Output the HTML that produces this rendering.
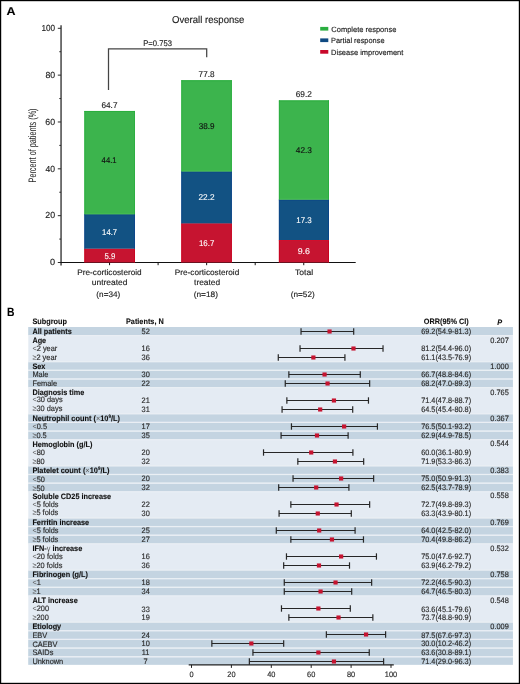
<!DOCTYPE html>
<html><head><meta charset="utf-8"><style>
html,body{margin:0;padding:0;background:#fff;width:520px;height:684px;overflow:hidden;}
svg{display:block;will-change:transform;}
text{font-family:"Liberation Sans",sans-serif;text-rendering:geometricPrecision;}
</style></head><body>
<svg width="520" height="684" viewBox="0 0 520 684">
<rect x="0" y="0" width="520" height="684" fill="#fff"/>
<text x="6.59" y="15.00" font-size="11.3" font-weight="bold" fill="#000" stroke="#000" stroke-width="0.1" stroke-linejoin="round" textLength="9.04" lengthAdjust="spacingAndGlyphs" stroke="#000" stroke-width="0.3">A</text>
<text x="172.05" y="23.00" font-size="10.0" fill="#1e1e1e" stroke="#1e1e1e" stroke-width="0.15" stroke-linejoin="round" textLength="72.38" lengthAdjust="spacingAndGlyphs">Overall response</text>
<line x1="61.05" y1="25.3" x2="61.05" y2="265.6" stroke="#2a2a2a" stroke-width="1.3"/>
<line x1="57.8" y1="262.50" x2="61" y2="262.50" stroke="#2a2a2a" stroke-width="1"/>
<text x="50.04" y="265.00" font-size="8.8" fill="#1e1e1e" stroke="#1e1e1e" stroke-width="0.15" stroke-linejoin="round" textLength="5.12" lengthAdjust="spacingAndGlyphs">0</text>
<line x1="59.3" y1="239.08" x2="61" y2="239.08" stroke="#2a2a2a" stroke-width="1"/>
<line x1="57.8" y1="215.66" x2="61" y2="215.66" stroke="#2a2a2a" stroke-width="1"/>
<text x="45.36" y="218.00" font-size="8.8" fill="#1e1e1e" stroke="#1e1e1e" stroke-width="0.15" stroke-linejoin="round" textLength="9.79" lengthAdjust="spacingAndGlyphs">20</text>
<line x1="59.3" y1="192.24" x2="61" y2="192.24" stroke="#2a2a2a" stroke-width="1"/>
<line x1="57.8" y1="168.82" x2="61" y2="168.82" stroke="#2a2a2a" stroke-width="1"/>
<text x="45.60" y="172.00" font-size="8.8" fill="#1e1e1e" stroke="#1e1e1e" stroke-width="0.15" stroke-linejoin="round" textLength="9.53" lengthAdjust="spacingAndGlyphs">40</text>
<line x1="59.3" y1="145.40" x2="61" y2="145.40" stroke="#2a2a2a" stroke-width="1"/>
<line x1="57.8" y1="121.98" x2="61" y2="121.98" stroke="#2a2a2a" stroke-width="1"/>
<text x="45.35" y="125.00" font-size="8.8" fill="#1e1e1e" stroke="#1e1e1e" stroke-width="0.15" stroke-linejoin="round" textLength="9.79" lengthAdjust="spacingAndGlyphs">60</text>
<line x1="59.3" y1="98.56" x2="61" y2="98.56" stroke="#2a2a2a" stroke-width="1"/>
<line x1="57.8" y1="75.14" x2="61" y2="75.14" stroke="#2a2a2a" stroke-width="1"/>
<text x="45.42" y="78.00" font-size="8.8" fill="#1e1e1e" stroke="#1e1e1e" stroke-width="0.15" stroke-linejoin="round" textLength="9.72" lengthAdjust="spacingAndGlyphs">80</text>
<line x1="59.3" y1="51.72" x2="61" y2="51.72" stroke="#2a2a2a" stroke-width="1"/>
<line x1="57.8" y1="28.30" x2="61" y2="28.30" stroke="#2a2a2a" stroke-width="1"/>
<text x="41.48" y="31.00" font-size="8.8" fill="#1e1e1e" stroke="#1e1e1e" stroke-width="0.15" stroke-linejoin="round" textLength="13.64" lengthAdjust="spacingAndGlyphs">100</text>
<text x="0" y="0" font-size="10.8" fill="#1e1e1e" text-anchor="middle" textLength="74" lengthAdjust="spacingAndGlyphs" transform="translate(36.1 145.45) rotate(-90)">Percent of patients (%)</text>
<line x1="60.4" y1="262.5" x2="355.7" y2="262.5" stroke="#111" stroke-width="1.2"/>
<line x1="109.55" y1="262.5" x2="109.55" y2="265.2" stroke="#111" stroke-width="1"/>
<line x1="158.10" y1="262.5" x2="158.10" y2="265.2" stroke="#111" stroke-width="1"/>
<line x1="206.65" y1="262.5" x2="206.65" y2="265.2" stroke="#111" stroke-width="1"/>
<line x1="255.20" y1="262.5" x2="255.20" y2="265.2" stroke="#111" stroke-width="1"/>
<line x1="303.75" y1="262.5" x2="303.75" y2="265.2" stroke="#111" stroke-width="1"/>
<rect x="84.4" y="248.68" width="50.50" height="13.82" fill="#c61430"/>
<rect x="84.4" y="248.68" width="0.9" height="13.82" fill="#c9021f"/>
<rect x="134.00" y="248.68" width="0.9" height="13.82" fill="#c9021f"/>
<rect x="84.4" y="248.68" width="50.50" height="0.9" fill="#d80f2a"/>
<rect x="84.4" y="214.25" width="50.50" height="34.43" fill="#125283"/>
<rect x="84.4" y="214.25" width="0.9" height="34.43" fill="#0b4588"/>
<rect x="134.00" y="214.25" width="0.9" height="34.43" fill="#0b4588"/>
<rect x="84.4" y="214.25" width="50.50" height="0.9" fill="#0a428a"/>
<rect x="84.4" y="110.97" width="50.50" height="103.28" fill="#3cb44d"/>
<rect x="84.4" y="110.97" width="0.9" height="103.28" fill="#2aae3f"/>
<rect x="134.00" y="110.97" width="0.9" height="103.28" fill="#2aae3f"/>
<rect x="84.4" y="110.97" width="50.50" height="0.9" fill="#28ad3c"/>
<rect x="85.30" y="213.35" width="48.70" height="0.9" fill="#47bf50"/>
<rect x="181.35" y="223.39" width="50.45" height="39.11" fill="#c61430"/>
<rect x="181.35" y="223.39" width="0.9" height="39.11" fill="#c9021f"/>
<rect x="230.90" y="223.39" width="0.9" height="39.11" fill="#c9021f"/>
<rect x="181.35" y="223.39" width="50.45" height="0.9" fill="#d80f2a"/>
<rect x="181.35" y="171.40" width="50.45" height="51.99" fill="#125283"/>
<rect x="181.35" y="171.40" width="0.9" height="51.99" fill="#0b4588"/>
<rect x="230.90" y="171.40" width="0.9" height="51.99" fill="#0b4588"/>
<rect x="181.35" y="171.40" width="50.45" height="0.9" fill="#0a428a"/>
<rect x="181.35" y="80.29" width="50.45" height="91.10" fill="#3cb44d"/>
<rect x="181.35" y="80.29" width="0.9" height="91.10" fill="#2aae3f"/>
<rect x="230.90" y="80.29" width="0.9" height="91.10" fill="#2aae3f"/>
<rect x="181.35" y="80.29" width="50.45" height="0.9" fill="#28ad3c"/>
<rect x="182.25" y="170.50" width="48.65" height="0.9" fill="#47bf50"/>
<rect x="278.9" y="240.02" width="50.10" height="22.48" fill="#c61430"/>
<rect x="278.9" y="240.02" width="0.9" height="22.48" fill="#c9021f"/>
<rect x="328.10" y="240.02" width="0.9" height="22.48" fill="#c9021f"/>
<rect x="278.9" y="240.02" width="50.10" height="0.9" fill="#d80f2a"/>
<rect x="278.9" y="199.50" width="50.10" height="40.52" fill="#125283"/>
<rect x="278.9" y="199.50" width="0.9" height="40.52" fill="#0b4588"/>
<rect x="328.10" y="199.50" width="0.9" height="40.52" fill="#0b4588"/>
<rect x="278.9" y="199.50" width="50.10" height="0.9" fill="#0a428a"/>
<rect x="278.9" y="100.43" width="50.10" height="99.07" fill="#3cb44d"/>
<rect x="278.9" y="100.43" width="0.9" height="99.07" fill="#2aae3f"/>
<rect x="328.10" y="100.43" width="0.9" height="99.07" fill="#2aae3f"/>
<rect x="278.9" y="100.43" width="50.10" height="0.9" fill="#28ad3c"/>
<rect x="279.80" y="198.60" width="48.30" height="0.9" fill="#47bf50"/>
<text x="101.48" y="108.00" font-size="8.4" fill="#1e1e1e" stroke="#1e1e1e" stroke-width="0.15" stroke-linejoin="round" textLength="16.03" lengthAdjust="spacingAndGlyphs">64.7</text>
<text x="198.58" y="77.00" font-size="8.4" fill="#1e1e1e" stroke="#1e1e1e" stroke-width="0.15" stroke-linejoin="round" textLength="15.98" lengthAdjust="spacingAndGlyphs">77.8</text>
<text x="295.68" y="97.00" font-size="8.4" fill="#1e1e1e" stroke="#1e1e1e" stroke-width="0.15" stroke-linejoin="round" textLength="16.14" lengthAdjust="spacingAndGlyphs">69.2</text>
<text x="101.62" y="163.00" font-size="8.4" fill="#111" stroke="#111" stroke-width="0.15" stroke-linejoin="round" textLength="14.95" lengthAdjust="spacingAndGlyphs">44.1</text>
<text x="198.79" y="129.00" font-size="8.4" fill="#111" stroke="#111" stroke-width="0.15" stroke-linejoin="round" textLength="15.79" lengthAdjust="spacingAndGlyphs">38.9</text>
<text x="295.81" y="153.00" font-size="8.4" fill="#111" stroke="#111" stroke-width="0.15" stroke-linejoin="round" textLength="16.16" lengthAdjust="spacingAndGlyphs">42.3</text>
<text x="102.11" y="235.00" font-size="8.4" fill="#fff" stroke="#fff" stroke-width="0.1" stroke-linejoin="round" textLength="15.08" lengthAdjust="spacingAndGlyphs">14.7</text>
<text x="198.48" y="200.00" font-size="8.4" fill="#fff" stroke="#fff" stroke-width="0.1" stroke-linejoin="round" textLength="16.13" lengthAdjust="spacingAndGlyphs">22.2</text>
<text x="296.19" y="223.00" font-size="8.4" fill="#fff" stroke="#fff" stroke-width="0.1" stroke-linejoin="round" textLength="15.56" lengthAdjust="spacingAndGlyphs">17.3</text>
<text x="104.49" y="259.00" font-size="8.4" fill="#fff" stroke="#fff" stroke-width="0.1" stroke-linejoin="round" textLength="10.78" lengthAdjust="spacingAndGlyphs">5.9</text>
<text x="198.90" y="246.00" font-size="8.4" fill="#fff" stroke="#fff" stroke-width="0.1" stroke-linejoin="round" textLength="15.40" lengthAdjust="spacingAndGlyphs">16.7</text>
<text x="297.69" y="254.00" font-size="8.4" fill="#fff" stroke="#fff" stroke-width="0.1" stroke-linejoin="round" textLength="12.30" lengthAdjust="spacingAndGlyphs">9.6</text>
<text x="77.33" y="275.00" font-size="8.0" fill="#1e1e1e" stroke="#1e1e1e" stroke-width="0.15" stroke-linejoin="round" textLength="64.30" lengthAdjust="spacingAndGlyphs">Pre-corticosteroid</text>
<text x="91.75" y="285.00" font-size="8.0" fill="#1e1e1e" stroke="#1e1e1e" stroke-width="0.15" stroke-linejoin="round" textLength="35.69" lengthAdjust="spacingAndGlyphs">untreated</text>
<text x="96.39" y="297.00" font-size="8.0" fill="#1e1e1e" stroke="#1e1e1e" stroke-width="0.15" stroke-linejoin="round" textLength="23.81" lengthAdjust="spacingAndGlyphs">(n=34)</text>
<text x="174.83" y="275.00" font-size="8.0" fill="#1e1e1e" stroke="#1e1e1e" stroke-width="0.15" stroke-linejoin="round" textLength="64.40" lengthAdjust="spacingAndGlyphs">Pre-corticosteroid</text>
<text x="194.07" y="285.00" font-size="8.0" fill="#1e1e1e" stroke="#1e1e1e" stroke-width="0.15" stroke-linejoin="round" textLength="26.07" lengthAdjust="spacingAndGlyphs">treated</text>
<text x="193.69" y="297.00" font-size="8.0" fill="#1e1e1e" stroke="#1e1e1e" stroke-width="0.15" stroke-linejoin="round" textLength="24.23" lengthAdjust="spacingAndGlyphs">(n=18)</text>
<text x="295.02" y="275.00" font-size="8.0" fill="#1e1e1e" stroke="#1e1e1e" stroke-width="0.15" stroke-linejoin="round" textLength="18.13" lengthAdjust="spacingAndGlyphs">Total</text>
<text x="290.79" y="297.00" font-size="8.0" fill="#1e1e1e" stroke="#1e1e1e" stroke-width="0.15" stroke-linejoin="round" textLength="23.92" lengthAdjust="spacingAndGlyphs">(n=52)</text>
<path d="M108.5 90 V48.9 H206.7 V57.3" fill="none" stroke="#444" stroke-width="1.25"/>
<text x="143.27" y="46.00" font-size="8.2" fill="#1e1e1e" stroke="#1e1e1e" stroke-width="0.15" stroke-linejoin="round" textLength="28.66" lengthAdjust="spacingAndGlyphs">P=0.753</text>
<rect x="320.2" y="26.9" width="8.1" height="3.7" fill="#2aae40"/>
<text x="331.32" y="32.00" font-size="7.6" fill="#1e1e1e" stroke="#1e1e1e" stroke-width="0.15" stroke-linejoin="round" textLength="65.01" lengthAdjust="spacingAndGlyphs">Complete response</text>
<rect x="320.2" y="38.4" width="8.1" height="3.7" fill="#0f4a82"/>
<text x="331.09" y="43.00" font-size="7.6" fill="#1e1e1e" stroke="#1e1e1e" stroke-width="0.15" stroke-linejoin="round" textLength="53.44" lengthAdjust="spacingAndGlyphs">Partial response</text>
<rect x="320.2" y="50.0" width="8.1" height="3.7" fill="#c8072a"/>
<text x="331.09" y="55.00" font-size="7.6" fill="#1e1e1e" stroke="#1e1e1e" stroke-width="0.15" stroke-linejoin="round" textLength="72.27" lengthAdjust="spacingAndGlyphs">Disease improvement</text>
<text x="7.11" y="316.00" font-size="12.0" font-weight="bold" fill="#000" stroke="#000" stroke-width="0.1" stroke-linejoin="round" textLength="7.46" lengthAdjust="spacingAndGlyphs" stroke="#000" stroke-width="0.35">B</text>
<rect x="28.3" y="327.02" width="484.60" height="337.77" fill="#e4ebf3"/>
<rect x="28.3" y="327.02" width="484.60" height="7.98" fill="#c4d4e1"/>
<rect x="28.3" y="362.24" width="484.60" height="7.48" fill="#c4d4e1"/>
<rect x="28.3" y="370.92" width="484.60" height="7.48" fill="#c4d4e1"/>
<rect x="28.3" y="379.60" width="484.60" height="7.48" fill="#c4d4e1"/>
<rect x="28.3" y="414.32" width="484.60" height="7.48" fill="#c4d4e1"/>
<rect x="28.3" y="423.00" width="484.60" height="7.48" fill="#c4d4e1"/>
<rect x="28.3" y="431.68" width="484.60" height="7.48" fill="#c4d4e1"/>
<rect x="28.3" y="466.40" width="484.60" height="7.48" fill="#c4d4e1"/>
<rect x="28.3" y="475.08" width="484.60" height="7.48" fill="#c4d4e1"/>
<rect x="28.3" y="483.76" width="484.60" height="7.48" fill="#c4d4e1"/>
<rect x="28.3" y="518.48" width="484.60" height="7.48" fill="#c4d4e1"/>
<rect x="28.3" y="527.16" width="484.60" height="7.48" fill="#c4d4e1"/>
<rect x="28.3" y="535.84" width="484.60" height="7.48" fill="#c4d4e1"/>
<rect x="28.3" y="570.56" width="484.60" height="7.48" fill="#c4d4e1"/>
<rect x="28.3" y="579.24" width="484.60" height="7.48" fill="#c4d4e1"/>
<rect x="28.3" y="587.92" width="484.60" height="7.48" fill="#c4d4e1"/>
<rect x="28.3" y="622.64" width="484.60" height="7.48" fill="#c4d4e1"/>
<rect x="28.3" y="631.32" width="484.60" height="7.48" fill="#c4d4e1"/>
<rect x="28.3" y="640.00" width="484.60" height="7.48" fill="#c4d4e1"/>
<rect x="28.3" y="648.68" width="484.60" height="7.48" fill="#c4d4e1"/>
<rect x="28.3" y="657.36" width="484.60" height="7.43" fill="#c4d4e1"/>
<rect x="28.3" y="335.05" width="484.60" height="1.1" fill="#eaeff4"/>
<rect x="28.3" y="361.09" width="484.60" height="1.1" fill="#eaeff4"/>
<rect x="28.3" y="369.77" width="484.60" height="1.1" fill="#eaeff4"/>
<rect x="28.3" y="378.45" width="484.60" height="1.1" fill="#eaeff4"/>
<rect x="28.3" y="387.13" width="484.60" height="1.1" fill="#eaeff4"/>
<rect x="28.3" y="413.17" width="484.60" height="1.1" fill="#eaeff4"/>
<rect x="28.3" y="421.85" width="484.60" height="1.1" fill="#eaeff4"/>
<rect x="28.3" y="430.53" width="484.60" height="1.1" fill="#eaeff4"/>
<rect x="28.3" y="439.21" width="484.60" height="1.1" fill="#eaeff4"/>
<rect x="28.3" y="465.25" width="484.60" height="1.1" fill="#eaeff4"/>
<rect x="28.3" y="473.93" width="484.60" height="1.1" fill="#eaeff4"/>
<rect x="28.3" y="482.61" width="484.60" height="1.1" fill="#eaeff4"/>
<rect x="28.3" y="491.29" width="484.60" height="1.1" fill="#eaeff4"/>
<rect x="28.3" y="517.33" width="484.60" height="1.1" fill="#eaeff4"/>
<rect x="28.3" y="526.01" width="484.60" height="1.1" fill="#eaeff4"/>
<rect x="28.3" y="534.69" width="484.60" height="1.1" fill="#eaeff4"/>
<rect x="28.3" y="543.37" width="484.60" height="1.1" fill="#eaeff4"/>
<rect x="28.3" y="569.41" width="484.60" height="1.1" fill="#eaeff4"/>
<rect x="28.3" y="578.09" width="484.60" height="1.1" fill="#eaeff4"/>
<rect x="28.3" y="586.77" width="484.60" height="1.1" fill="#eaeff4"/>
<rect x="28.3" y="595.45" width="484.60" height="1.1" fill="#eaeff4"/>
<rect x="28.3" y="621.49" width="484.60" height="1.1" fill="#eaeff4"/>
<rect x="28.3" y="630.17" width="484.60" height="1.1" fill="#eaeff4"/>
<rect x="28.3" y="638.85" width="484.60" height="1.1" fill="#eaeff4"/>
<rect x="28.3" y="647.53" width="484.60" height="1.1" fill="#eaeff4"/>
<rect x="28.3" y="656.21" width="484.60" height="1.1" fill="#eaeff4"/>
<text x="32.40" y="324.00" font-size="7.85" font-weight="bold" fill="#111" stroke="#111" stroke-width="0.1" stroke-linejoin="round" textLength="34.47" lengthAdjust="spacingAndGlyphs">Subgroup</text>
<text x="144.85" y="324.00" font-size="7.85" font-weight="bold" text-anchor="middle" fill="#111" stroke="#111" stroke-width="0.1" stroke-linejoin="round" textLength="37.73" lengthAdjust="spacingAndGlyphs">Patients, N</text>
<text x="446.30" y="324.00" font-size="7.85" font-weight="bold" text-anchor="middle" fill="#111" stroke="#111" stroke-width="0.1" stroke-linejoin="round" textLength="45.02" lengthAdjust="spacingAndGlyphs">ORR(95% CI)</text>
<text x="499.60" y="325.00" font-size="7.85" font-weight="bold" text-anchor="middle" fill="#111" stroke="#111" stroke-width="0.1" stroke-linejoin="round" textLength="4.87" lengthAdjust="spacingAndGlyphs" font-style="italic">P</text>
<text x="32.40" y="334.00" font-size="7.85" font-weight="bold" fill="#111" stroke="#111" stroke-width="0.1" stroke-linejoin="round" textLength="39.35" lengthAdjust="spacingAndGlyphs">All patients</text>
<text x="145.65" y="334.00" font-size="7.85" text-anchor="middle" fill="#2a2a2a" stroke="#2a2a2a" stroke-width="0.15" stroke-linejoin="round" textLength="8.23" lengthAdjust="spacingAndGlyphs">52</text>
<text x="446.15" y="334.00" font-size="7.85" text-anchor="middle" fill="#2a2a2a" stroke="#2a2a2a" stroke-width="0.15" stroke-linejoin="round" textLength="49.92" lengthAdjust="spacingAndGlyphs">69.2(54.9-81.3)</text>
<line x1="301.03" y1="331.50" x2="353.69" y2="331.50" stroke="#262626" stroke-width="1"/>
<line x1="301.03" y1="328.30" x2="301.03" y2="334.70" stroke="#262626" stroke-width="1.2"/>
<line x1="353.69" y1="328.30" x2="353.69" y2="334.70" stroke="#262626" stroke-width="1.2"/>
<rect x="327.45" y="329.45" width="4.2" height="4.1" fill="#c61430"/>
<text x="32.40" y="343.00" font-size="7.85" font-weight="bold" fill="#111" stroke="#111" stroke-width="0.1" stroke-linejoin="round" textLength="13.79" lengthAdjust="spacingAndGlyphs">Age</text>
<text x="499.60" y="343.00" font-size="7.85" text-anchor="middle" fill="#2a2a2a" stroke="#2a2a2a" stroke-width="0.15" stroke-linejoin="round" textLength="18.52" lengthAdjust="spacingAndGlyphs">0.207</text>
<text x="32.40" y="351.00" font-size="7.85" fill="#2a2a2a" stroke="#2a2a2a" stroke-width="0.15" stroke-linejoin="round" textLength="24.89" lengthAdjust="spacingAndGlyphs"><tspan fill="#5a5a5a" stroke="none">&lt;</tspan>2 year</text>
<text x="145.65" y="351.00" font-size="7.85" text-anchor="middle" fill="#2a2a2a" stroke="#2a2a2a" stroke-width="0.15" stroke-linejoin="round" textLength="8.23" lengthAdjust="spacingAndGlyphs">16</text>
<text x="446.15" y="351.00" font-size="7.85" text-anchor="middle" fill="#2a2a2a" stroke="#2a2a2a" stroke-width="0.15" stroke-linejoin="round" textLength="49.92" lengthAdjust="spacingAndGlyphs">81.2(54.4-96.0)</text>
<line x1="300.03" y1="348.50" x2="383.02" y2="348.50" stroke="#262626" stroke-width="1"/>
<line x1="300.03" y1="345.30" x2="300.03" y2="351.70" stroke="#262626" stroke-width="1.2"/>
<line x1="383.02" y1="345.30" x2="383.02" y2="351.70" stroke="#262626" stroke-width="1.2"/>
<rect x="351.39" y="346.45" width="4.2" height="4.1" fill="#c61430"/>
<text x="32.40" y="360.00" font-size="7.85" fill="#2a2a2a" stroke="#2a2a2a" stroke-width="0.15" stroke-linejoin="round" textLength="24.63" lengthAdjust="spacingAndGlyphs"><tspan fill="#5a5a5a" stroke="none">≥</tspan>2 year</text>
<text x="145.65" y="360.00" font-size="7.85" text-anchor="middle" fill="#2a2a2a" stroke="#2a2a2a" stroke-width="0.15" stroke-linejoin="round" textLength="8.23" lengthAdjust="spacingAndGlyphs">36</text>
<text x="446.15" y="360.00" font-size="7.85" text-anchor="middle" fill="#2a2a2a" stroke="#2a2a2a" stroke-width="0.15" stroke-linejoin="round" textLength="49.92" lengthAdjust="spacingAndGlyphs">61.1(43.5-76.9)</text>
<line x1="278.28" y1="357.50" x2="344.92" y2="357.50" stroke="#262626" stroke-width="1"/>
<line x1="278.28" y1="354.30" x2="278.28" y2="360.70" stroke="#262626" stroke-width="1.2"/>
<line x1="344.92" y1="354.30" x2="344.92" y2="360.70" stroke="#262626" stroke-width="1.2"/>
<rect x="311.29" y="355.45" width="4.2" height="4.1" fill="#c61430"/>
<text x="32.40" y="369.00" font-size="7.85" font-weight="bold" fill="#111" stroke="#111" stroke-width="0.1" stroke-linejoin="round" textLength="12.99" lengthAdjust="spacingAndGlyphs">Sex</text>
<text x="499.60" y="369.00" font-size="7.85" text-anchor="middle" fill="#2a2a2a" stroke="#2a2a2a" stroke-width="0.15" stroke-linejoin="round" textLength="18.52" lengthAdjust="spacingAndGlyphs">1.000</text>
<text x="32.40" y="377.00" font-size="7.85" fill="#2a2a2a" stroke="#2a2a2a" stroke-width="0.15" stroke-linejoin="round" textLength="16.04" lengthAdjust="spacingAndGlyphs">Male</text>
<text x="145.65" y="377.00" font-size="7.85" text-anchor="middle" fill="#2a2a2a" stroke="#2a2a2a" stroke-width="0.15" stroke-linejoin="round" textLength="8.23" lengthAdjust="spacingAndGlyphs">30</text>
<text x="446.15" y="377.00" font-size="7.85" text-anchor="middle" fill="#2a2a2a" stroke="#2a2a2a" stroke-width="0.15" stroke-linejoin="round" textLength="49.92" lengthAdjust="spacingAndGlyphs">66.7(48.8-84.6)</text>
<line x1="288.86" y1="374.50" x2="360.28" y2="374.50" stroke="#262626" stroke-width="1"/>
<line x1="288.86" y1="371.30" x2="288.86" y2="377.70" stroke="#262626" stroke-width="1.2"/>
<line x1="360.28" y1="371.30" x2="360.28" y2="377.70" stroke="#262626" stroke-width="1.2"/>
<rect x="322.47" y="372.45" width="4.2" height="4.1" fill="#c61430"/>
<text x="32.40" y="386.00" font-size="7.85" fill="#2a2a2a" stroke="#2a2a2a" stroke-width="0.15" stroke-linejoin="round" textLength="24.68" lengthAdjust="spacingAndGlyphs">Female</text>
<text x="145.65" y="386.00" font-size="7.85" text-anchor="middle" fill="#2a2a2a" stroke="#2a2a2a" stroke-width="0.15" stroke-linejoin="round" textLength="8.23" lengthAdjust="spacingAndGlyphs">22</text>
<text x="446.15" y="386.00" font-size="7.85" text-anchor="middle" fill="#2a2a2a" stroke="#2a2a2a" stroke-width="0.15" stroke-linejoin="round" textLength="49.92" lengthAdjust="spacingAndGlyphs">68.2(47.0-89.3)</text>
<line x1="285.26" y1="383.50" x2="369.65" y2="383.50" stroke="#262626" stroke-width="1"/>
<line x1="285.26" y1="380.30" x2="285.26" y2="386.70" stroke="#262626" stroke-width="1.2"/>
<line x1="369.65" y1="380.30" x2="369.65" y2="386.70" stroke="#262626" stroke-width="1.2"/>
<rect x="325.46" y="381.45" width="4.2" height="4.1" fill="#c61430"/>
<text x="32.40" y="395.00" font-size="7.85" font-weight="bold" fill="#111" stroke="#111" stroke-width="0.1" stroke-linejoin="round" textLength="51.92" lengthAdjust="spacingAndGlyphs">Diagnosis time</text>
<text x="499.60" y="395.00" font-size="7.85" text-anchor="middle" fill="#2a2a2a" stroke="#2a2a2a" stroke-width="0.15" stroke-linejoin="round" textLength="18.52" lengthAdjust="spacingAndGlyphs">0.765</text>
<text x="32.40" y="402.00" font-size="7.85" fill="#2a2a2a" stroke="#2a2a2a" stroke-width="0.15" stroke-linejoin="round" textLength="30.24" lengthAdjust="spacingAndGlyphs"><tspan fill="#5a5a5a" stroke="none">&lt;</tspan>30 days</text>
<text x="145.65" y="403.00" font-size="7.85" text-anchor="middle" fill="#2a2a2a" stroke="#2a2a2a" stroke-width="0.15" stroke-linejoin="round" textLength="8.23" lengthAdjust="spacingAndGlyphs">21</text>
<text x="446.15" y="403.00" font-size="7.85" text-anchor="middle" fill="#2a2a2a" stroke="#2a2a2a" stroke-width="0.15" stroke-linejoin="round" textLength="49.92" lengthAdjust="spacingAndGlyphs">71.4(47.8-88.7)</text>
<line x1="286.86" y1="400.50" x2="368.46" y2="400.50" stroke="#262626" stroke-width="1"/>
<line x1="286.86" y1="397.30" x2="286.86" y2="403.70" stroke="#262626" stroke-width="1.2"/>
<line x1="368.46" y1="397.30" x2="368.46" y2="403.70" stroke="#262626" stroke-width="1.2"/>
<rect x="331.84" y="398.45" width="4.2" height="4.1" fill="#c61430"/>
<text x="32.40" y="411.00" font-size="7.85" fill="#2a2a2a" stroke="#2a2a2a" stroke-width="0.15" stroke-linejoin="round" textLength="29.98" lengthAdjust="spacingAndGlyphs"><tspan fill="#5a5a5a" stroke="none">≥</tspan>30 days</text>
<text x="145.65" y="412.00" font-size="7.85" text-anchor="middle" fill="#2a2a2a" stroke="#2a2a2a" stroke-width="0.15" stroke-linejoin="round" textLength="8.23" lengthAdjust="spacingAndGlyphs">31</text>
<text x="446.15" y="412.00" font-size="7.85" text-anchor="middle" fill="#2a2a2a" stroke="#2a2a2a" stroke-width="0.15" stroke-linejoin="round" textLength="49.92" lengthAdjust="spacingAndGlyphs">64.5(45.4-80.8)</text>
<line x1="282.07" y1="409.50" x2="352.70" y2="409.50" stroke="#262626" stroke-width="1"/>
<line x1="282.07" y1="406.30" x2="282.07" y2="412.70" stroke="#262626" stroke-width="1.2"/>
<line x1="352.70" y1="406.30" x2="352.70" y2="412.70" stroke="#262626" stroke-width="1.2"/>
<rect x="318.08" y="407.45" width="4.2" height="4.1" fill="#c61430"/>
<text x="32.40" y="421.00" font-size="7.85" font-weight="bold" fill="#111" stroke="#111" stroke-width="0.1" stroke-linejoin="round" textLength="87.62" lengthAdjust="spacingAndGlyphs">Neutrophil count (<tspan font-weight="normal" fill="#555" stroke="none">×</tspan>10<tspan font-size="4.87" dy="-2.7">9</tspan><tspan dy="2.7">/L)</tspan></text>
<text x="499.60" y="421.00" font-size="7.85" text-anchor="middle" fill="#2a2a2a" stroke="#2a2a2a" stroke-width="0.15" stroke-linejoin="round" textLength="18.52" lengthAdjust="spacingAndGlyphs">0.367</text>
<text x="32.40" y="429.00" font-size="7.85" fill="#2a2a2a" stroke="#2a2a2a" stroke-width="0.15" stroke-linejoin="round" textLength="14.61" lengthAdjust="spacingAndGlyphs"><tspan fill="#5a5a5a" stroke="none">&lt;</tspan>0.5</text>
<text x="145.65" y="429.00" font-size="7.85" text-anchor="middle" fill="#2a2a2a" stroke="#2a2a2a" stroke-width="0.15" stroke-linejoin="round" textLength="8.23" lengthAdjust="spacingAndGlyphs">17</text>
<text x="446.15" y="429.00" font-size="7.85" text-anchor="middle" fill="#2a2a2a" stroke="#2a2a2a" stroke-width="0.15" stroke-linejoin="round" textLength="49.92" lengthAdjust="spacingAndGlyphs">76.5(50.1-93.2)</text>
<line x1="291.45" y1="426.50" x2="377.43" y2="426.50" stroke="#262626" stroke-width="1"/>
<line x1="291.45" y1="423.30" x2="291.45" y2="429.70" stroke="#262626" stroke-width="1.2"/>
<line x1="377.43" y1="423.30" x2="377.43" y2="429.70" stroke="#262626" stroke-width="1.2"/>
<rect x="342.02" y="424.45" width="4.2" height="4.1" fill="#c61430"/>
<text x="32.40" y="438.00" font-size="7.85" fill="#2a2a2a" stroke="#2a2a2a" stroke-width="0.15" stroke-linejoin="round" textLength="14.35" lengthAdjust="spacingAndGlyphs"><tspan fill="#5a5a5a" stroke="none">≥</tspan>0.5</text>
<text x="145.65" y="438.00" font-size="7.85" text-anchor="middle" fill="#2a2a2a" stroke="#2a2a2a" stroke-width="0.15" stroke-linejoin="round" textLength="8.23" lengthAdjust="spacingAndGlyphs">35</text>
<text x="446.15" y="438.00" font-size="7.85" text-anchor="middle" fill="#2a2a2a" stroke="#2a2a2a" stroke-width="0.15" stroke-linejoin="round" textLength="49.92" lengthAdjust="spacingAndGlyphs">62.9(44.9-78.5)</text>
<line x1="281.08" y1="435.50" x2="348.11" y2="435.50" stroke="#262626" stroke-width="1"/>
<line x1="281.08" y1="432.30" x2="281.08" y2="438.70" stroke="#262626" stroke-width="1.2"/>
<line x1="348.11" y1="432.30" x2="348.11" y2="438.70" stroke="#262626" stroke-width="1.2"/>
<rect x="314.89" y="433.45" width="4.2" height="4.1" fill="#c61430"/>
<text x="32.40" y="447.00" font-size="7.85" font-weight="bold" fill="#111" stroke="#111" stroke-width="0.1" stroke-linejoin="round" textLength="60.01" lengthAdjust="spacingAndGlyphs">Hemoglobin (g/L)</text>
<text x="499.60" y="446.00" font-size="7.85" text-anchor="middle" fill="#2a2a2a" stroke="#2a2a2a" stroke-width="0.15" stroke-linejoin="round" textLength="18.52" lengthAdjust="spacingAndGlyphs">0.544</text>
<text x="32.40" y="455.00" font-size="7.85" fill="#2a2a2a" stroke="#2a2a2a" stroke-width="0.15" stroke-linejoin="round" textLength="12.55" lengthAdjust="spacingAndGlyphs"><tspan fill="#5a5a5a" stroke="none">&lt;</tspan>80</text>
<text x="145.65" y="455.00" font-size="7.85" text-anchor="middle" fill="#2a2a2a" stroke="#2a2a2a" stroke-width="0.15" stroke-linejoin="round" textLength="8.23" lengthAdjust="spacingAndGlyphs">20</text>
<text x="446.15" y="455.00" font-size="7.85" text-anchor="middle" fill="#2a2a2a" stroke="#2a2a2a" stroke-width="0.15" stroke-linejoin="round" textLength="49.92" lengthAdjust="spacingAndGlyphs">60.0(36.1-80.9)</text>
<line x1="263.52" y1="452.50" x2="352.90" y2="452.50" stroke="#262626" stroke-width="1"/>
<line x1="263.52" y1="449.30" x2="263.52" y2="455.70" stroke="#262626" stroke-width="1.2"/>
<line x1="352.90" y1="449.30" x2="352.90" y2="455.70" stroke="#262626" stroke-width="1.2"/>
<rect x="309.10" y="450.45" width="4.2" height="4.1" fill="#c61430"/>
<text x="32.40" y="464.00" font-size="7.85" fill="#2a2a2a" stroke="#2a2a2a" stroke-width="0.15" stroke-linejoin="round" textLength="12.29" lengthAdjust="spacingAndGlyphs"><tspan fill="#5a5a5a" stroke="none">≥</tspan>80</text>
<text x="145.65" y="464.00" font-size="7.85" text-anchor="middle" fill="#2a2a2a" stroke="#2a2a2a" stroke-width="0.15" stroke-linejoin="round" textLength="8.23" lengthAdjust="spacingAndGlyphs">32</text>
<text x="446.15" y="464.00" font-size="7.85" text-anchor="middle" fill="#2a2a2a" stroke="#2a2a2a" stroke-width="0.15" stroke-linejoin="round" textLength="49.92" lengthAdjust="spacingAndGlyphs">71.9(53.3-86.3)</text>
<line x1="297.83" y1="461.50" x2="363.67" y2="461.50" stroke="#262626" stroke-width="1"/>
<line x1="297.83" y1="458.30" x2="297.83" y2="464.70" stroke="#262626" stroke-width="1.2"/>
<line x1="363.67" y1="458.30" x2="363.67" y2="464.70" stroke="#262626" stroke-width="1.2"/>
<rect x="332.84" y="459.45" width="4.2" height="4.1" fill="#c61430"/>
<text x="32.40" y="473.00" font-size="7.85" font-weight="bold" fill="#111" stroke="#111" stroke-width="0.1" stroke-linejoin="round" textLength="77.09" lengthAdjust="spacingAndGlyphs">Platelet count (<tspan font-weight="normal" fill="#555" stroke="none">×</tspan>10<tspan font-size="4.87" dy="-2.7">9</tspan><tspan dy="2.7">/L)</tspan></text>
<text x="499.60" y="473.00" font-size="7.85" text-anchor="middle" fill="#2a2a2a" stroke="#2a2a2a" stroke-width="0.15" stroke-linejoin="round" textLength="18.52" lengthAdjust="spacingAndGlyphs">0.383</text>
<text x="32.40" y="482.00" font-size="7.85" fill="#2a2a2a" stroke="#2a2a2a" stroke-width="0.15" stroke-linejoin="round" textLength="12.55" lengthAdjust="spacingAndGlyphs"><tspan fill="#5a5a5a" stroke="none">&lt;</tspan>50</text>
<text x="145.65" y="481.00" font-size="7.85" text-anchor="middle" fill="#2a2a2a" stroke="#2a2a2a" stroke-width="0.15" stroke-linejoin="round" textLength="8.23" lengthAdjust="spacingAndGlyphs">20</text>
<text x="446.15" y="481.00" font-size="7.85" text-anchor="middle" fill="#2a2a2a" stroke="#2a2a2a" stroke-width="0.15" stroke-linejoin="round" textLength="49.92" lengthAdjust="spacingAndGlyphs">75.0(50.9-91.3)</text>
<line x1="293.05" y1="478.50" x2="373.64" y2="478.50" stroke="#262626" stroke-width="1"/>
<line x1="293.05" y1="475.30" x2="293.05" y2="481.70" stroke="#262626" stroke-width="1.2"/>
<line x1="373.64" y1="475.30" x2="373.64" y2="481.70" stroke="#262626" stroke-width="1.2"/>
<rect x="339.02" y="476.45" width="4.2" height="4.1" fill="#c61430"/>
<text x="32.40" y="491.00" font-size="7.85" fill="#2a2a2a" stroke="#2a2a2a" stroke-width="0.15" stroke-linejoin="round" textLength="12.29" lengthAdjust="spacingAndGlyphs"><tspan fill="#5a5a5a" stroke="none">≥</tspan>50</text>
<text x="145.65" y="490.00" font-size="7.85" text-anchor="middle" fill="#2a2a2a" stroke="#2a2a2a" stroke-width="0.15" stroke-linejoin="round" textLength="8.23" lengthAdjust="spacingAndGlyphs">32</text>
<text x="446.15" y="490.00" font-size="7.85" text-anchor="middle" fill="#2a2a2a" stroke="#2a2a2a" stroke-width="0.15" stroke-linejoin="round" textLength="49.92" lengthAdjust="spacingAndGlyphs">62.5(43.7-78.9)</text>
<line x1="278.68" y1="487.50" x2="348.91" y2="487.50" stroke="#262626" stroke-width="1"/>
<line x1="278.68" y1="484.30" x2="278.68" y2="490.70" stroke="#262626" stroke-width="1.2"/>
<line x1="348.91" y1="484.30" x2="348.91" y2="490.70" stroke="#262626" stroke-width="1.2"/>
<rect x="314.09" y="485.45" width="4.2" height="4.1" fill="#c61430"/>
<text x="32.40" y="499.00" font-size="7.85" font-weight="bold" fill="#111" stroke="#111" stroke-width="0.1" stroke-linejoin="round" textLength="78.71" lengthAdjust="spacingAndGlyphs">Soluble CD25 increase</text>
<text x="499.60" y="498.00" font-size="7.85" text-anchor="middle" fill="#2a2a2a" stroke="#2a2a2a" stroke-width="0.15" stroke-linejoin="round" textLength="18.52" lengthAdjust="spacingAndGlyphs">0.558</text>
<text x="32.40" y="507.00" font-size="7.85" fill="#2a2a2a" stroke="#2a2a2a" stroke-width="0.15" stroke-linejoin="round" textLength="26.12" lengthAdjust="spacingAndGlyphs"><tspan fill="#5a5a5a" stroke="none">&lt;</tspan>5 folds</text>
<text x="145.65" y="507.00" font-size="7.85" text-anchor="middle" fill="#2a2a2a" stroke="#2a2a2a" stroke-width="0.15" stroke-linejoin="round" textLength="8.23" lengthAdjust="spacingAndGlyphs">22</text>
<text x="446.15" y="507.00" font-size="7.85" text-anchor="middle" fill="#2a2a2a" stroke="#2a2a2a" stroke-width="0.15" stroke-linejoin="round" textLength="49.92" lengthAdjust="spacingAndGlyphs">72.7(49.8-89.3)</text>
<line x1="290.85" y1="504.50" x2="369.65" y2="504.50" stroke="#262626" stroke-width="1"/>
<line x1="290.85" y1="501.30" x2="290.85" y2="507.70" stroke="#262626" stroke-width="1.2"/>
<line x1="369.65" y1="501.30" x2="369.65" y2="507.70" stroke="#262626" stroke-width="1.2"/>
<rect x="334.44" y="502.45" width="4.2" height="4.1" fill="#c61430"/>
<text x="32.40" y="515.00" font-size="7.85" fill="#2a2a2a" stroke="#2a2a2a" stroke-width="0.15" stroke-linejoin="round" textLength="25.86" lengthAdjust="spacingAndGlyphs"><tspan fill="#5a5a5a" stroke="none">≥</tspan>5 folds</text>
<text x="145.65" y="516.00" font-size="7.85" text-anchor="middle" fill="#2a2a2a" stroke="#2a2a2a" stroke-width="0.15" stroke-linejoin="round" textLength="8.23" lengthAdjust="spacingAndGlyphs">30</text>
<text x="446.15" y="516.00" font-size="7.85" text-anchor="middle" fill="#2a2a2a" stroke="#2a2a2a" stroke-width="0.15" stroke-linejoin="round" textLength="49.92" lengthAdjust="spacingAndGlyphs">63.3(43.9-80.1)</text>
<line x1="279.08" y1="513.50" x2="351.30" y2="513.50" stroke="#262626" stroke-width="1"/>
<line x1="279.08" y1="510.30" x2="279.08" y2="516.70" stroke="#262626" stroke-width="1.2"/>
<line x1="351.30" y1="510.30" x2="351.30" y2="516.70" stroke="#262626" stroke-width="1.2"/>
<rect x="315.68" y="511.45" width="4.2" height="4.1" fill="#c61430"/>
<text x="32.40" y="525.00" font-size="7.85" font-weight="bold" fill="#111" stroke="#111" stroke-width="0.1" stroke-linejoin="round" textLength="56.80" lengthAdjust="spacingAndGlyphs">Ferritin increase</text>
<text x="499.60" y="525.00" font-size="7.85" text-anchor="middle" fill="#2a2a2a" stroke="#2a2a2a" stroke-width="0.15" stroke-linejoin="round" textLength="18.52" lengthAdjust="spacingAndGlyphs">0.769</text>
<text x="32.40" y="533.00" font-size="7.85" fill="#2a2a2a" stroke="#2a2a2a" stroke-width="0.15" stroke-linejoin="round" textLength="26.12" lengthAdjust="spacingAndGlyphs"><tspan fill="#5a5a5a" stroke="none">&lt;</tspan>5 folds</text>
<text x="145.65" y="533.00" font-size="7.85" text-anchor="middle" fill="#2a2a2a" stroke="#2a2a2a" stroke-width="0.15" stroke-linejoin="round" textLength="8.23" lengthAdjust="spacingAndGlyphs">25</text>
<text x="446.15" y="533.00" font-size="7.85" text-anchor="middle" fill="#2a2a2a" stroke="#2a2a2a" stroke-width="0.15" stroke-linejoin="round" textLength="49.92" lengthAdjust="spacingAndGlyphs">64.0(42.5-82.0)</text>
<line x1="276.29" y1="530.50" x2="355.09" y2="530.50" stroke="#262626" stroke-width="1"/>
<line x1="276.29" y1="527.30" x2="276.29" y2="533.70" stroke="#262626" stroke-width="1.2"/>
<line x1="355.09" y1="527.30" x2="355.09" y2="533.70" stroke="#262626" stroke-width="1.2"/>
<rect x="317.08" y="528.45" width="4.2" height="4.1" fill="#c61430"/>
<text x="32.40" y="542.00" font-size="7.85" fill="#2a2a2a" stroke="#2a2a2a" stroke-width="0.15" stroke-linejoin="round" textLength="25.86" lengthAdjust="spacingAndGlyphs"><tspan fill="#5a5a5a" stroke="none">≥</tspan>5 folds</text>
<text x="145.65" y="542.00" font-size="7.85" text-anchor="middle" fill="#2a2a2a" stroke="#2a2a2a" stroke-width="0.15" stroke-linejoin="round" textLength="8.23" lengthAdjust="spacingAndGlyphs">27</text>
<text x="446.15" y="542.00" font-size="7.85" text-anchor="middle" fill="#2a2a2a" stroke="#2a2a2a" stroke-width="0.15" stroke-linejoin="round" textLength="49.92" lengthAdjust="spacingAndGlyphs">70.4(49.8-86.2)</text>
<line x1="290.85" y1="539.50" x2="363.47" y2="539.50" stroke="#262626" stroke-width="1"/>
<line x1="290.85" y1="536.30" x2="290.85" y2="542.70" stroke="#262626" stroke-width="1.2"/>
<line x1="363.47" y1="536.30" x2="363.47" y2="542.70" stroke="#262626" stroke-width="1.2"/>
<rect x="329.85" y="537.45" width="4.2" height="4.1" fill="#c61430"/>
<text x="32.40" y="551.00" font-size="7.85" font-weight="bold" fill="#111" stroke="#111" stroke-width="0.1" stroke-linejoin="round" textLength="49.91" lengthAdjust="spacingAndGlyphs">IFN-<tspan font-weight="normal" fill="#555" stroke="none">γ</tspan> increase</text>
<text x="499.60" y="551.00" font-size="7.85" text-anchor="middle" fill="#2a2a2a" stroke="#2a2a2a" stroke-width="0.15" stroke-linejoin="round" textLength="18.52" lengthAdjust="spacingAndGlyphs">0.532</text>
<text x="32.40" y="559.00" font-size="7.85" fill="#2a2a2a" stroke="#2a2a2a" stroke-width="0.15" stroke-linejoin="round" textLength="30.24" lengthAdjust="spacingAndGlyphs"><tspan fill="#5a5a5a" stroke="none">&lt;</tspan>20 folds</text>
<text x="145.65" y="559.00" font-size="7.85" text-anchor="middle" fill="#2a2a2a" stroke="#2a2a2a" stroke-width="0.15" stroke-linejoin="round" textLength="8.23" lengthAdjust="spacingAndGlyphs">16</text>
<text x="446.15" y="559.00" font-size="7.85" text-anchor="middle" fill="#2a2a2a" stroke="#2a2a2a" stroke-width="0.15" stroke-linejoin="round" textLength="49.92" lengthAdjust="spacingAndGlyphs">75.0(47.6-92.7)</text>
<line x1="286.46" y1="556.50" x2="376.44" y2="556.50" stroke="#262626" stroke-width="1"/>
<line x1="286.46" y1="553.30" x2="286.46" y2="559.70" stroke="#262626" stroke-width="1.2"/>
<line x1="376.44" y1="553.30" x2="376.44" y2="559.70" stroke="#262626" stroke-width="1.2"/>
<rect x="339.02" y="554.45" width="4.2" height="4.1" fill="#c61430"/>
<text x="32.40" y="568.00" font-size="7.85" fill="#2a2a2a" stroke="#2a2a2a" stroke-width="0.15" stroke-linejoin="round" textLength="29.98" lengthAdjust="spacingAndGlyphs"><tspan fill="#5a5a5a" stroke="none">≥</tspan>20 folds</text>
<text x="145.65" y="568.00" font-size="7.85" text-anchor="middle" fill="#2a2a2a" stroke="#2a2a2a" stroke-width="0.15" stroke-linejoin="round" textLength="8.23" lengthAdjust="spacingAndGlyphs">36</text>
<text x="446.15" y="568.00" font-size="7.85" text-anchor="middle" fill="#2a2a2a" stroke="#2a2a2a" stroke-width="0.15" stroke-linejoin="round" textLength="49.92" lengthAdjust="spacingAndGlyphs">63.9(46.2-79.2)</text>
<line x1="283.67" y1="565.50" x2="349.50" y2="565.50" stroke="#262626" stroke-width="1"/>
<line x1="283.67" y1="562.30" x2="283.67" y2="568.70" stroke="#262626" stroke-width="1.2"/>
<line x1="349.50" y1="562.30" x2="349.50" y2="568.70" stroke="#262626" stroke-width="1.2"/>
<rect x="316.88" y="563.45" width="4.2" height="4.1" fill="#c61430"/>
<text x="32.40" y="577.00" font-size="7.85" font-weight="bold" fill="#111" stroke="#111" stroke-width="0.1" stroke-linejoin="round" textLength="55.55" lengthAdjust="spacingAndGlyphs">Fibrinogen (g/L)</text>
<text x="499.60" y="577.00" font-size="7.85" text-anchor="middle" fill="#2a2a2a" stroke="#2a2a2a" stroke-width="0.15" stroke-linejoin="round" textLength="18.52" lengthAdjust="spacingAndGlyphs">0.758</text>
<text x="32.40" y="585.00" font-size="7.85" fill="#2a2a2a" stroke="#2a2a2a" stroke-width="0.15" stroke-linejoin="round" textLength="8.44" lengthAdjust="spacingAndGlyphs"><tspan fill="#5a5a5a" stroke="none">&lt;</tspan>1</text>
<text x="145.65" y="585.00" font-size="7.85" text-anchor="middle" fill="#2a2a2a" stroke="#2a2a2a" stroke-width="0.15" stroke-linejoin="round" textLength="8.23" lengthAdjust="spacingAndGlyphs">18</text>
<text x="446.15" y="585.00" font-size="7.85" text-anchor="middle" fill="#2a2a2a" stroke="#2a2a2a" stroke-width="0.15" stroke-linejoin="round" textLength="49.92" lengthAdjust="spacingAndGlyphs">72.2(46.5-90.3)</text>
<line x1="284.27" y1="582.50" x2="371.65" y2="582.50" stroke="#262626" stroke-width="1"/>
<line x1="284.27" y1="579.30" x2="284.27" y2="585.70" stroke="#262626" stroke-width="1.2"/>
<line x1="371.65" y1="579.30" x2="371.65" y2="585.70" stroke="#262626" stroke-width="1.2"/>
<rect x="333.44" y="580.45" width="4.2" height="4.1" fill="#c61430"/>
<text x="32.40" y="594.00" font-size="7.85" fill="#2a2a2a" stroke="#2a2a2a" stroke-width="0.15" stroke-linejoin="round" textLength="8.18" lengthAdjust="spacingAndGlyphs"><tspan fill="#5a5a5a" stroke="none">≥</tspan>1</text>
<text x="145.65" y="594.00" font-size="7.85" text-anchor="middle" fill="#2a2a2a" stroke="#2a2a2a" stroke-width="0.15" stroke-linejoin="round" textLength="8.23" lengthAdjust="spacingAndGlyphs">34</text>
<text x="446.15" y="594.00" font-size="7.85" text-anchor="middle" fill="#2a2a2a" stroke="#2a2a2a" stroke-width="0.15" stroke-linejoin="round" textLength="49.92" lengthAdjust="spacingAndGlyphs">64.7(46.5-80.3)</text>
<line x1="284.27" y1="591.50" x2="351.70" y2="591.50" stroke="#262626" stroke-width="1"/>
<line x1="284.27" y1="588.30" x2="284.27" y2="594.70" stroke="#262626" stroke-width="1.2"/>
<line x1="351.70" y1="588.30" x2="351.70" y2="594.70" stroke="#262626" stroke-width="1.2"/>
<rect x="318.48" y="589.45" width="4.2" height="4.1" fill="#c61430"/>
<text x="32.40" y="603.00" font-size="7.85" font-weight="bold" fill="#111" stroke="#111" stroke-width="0.1" stroke-linejoin="round" textLength="45.31" lengthAdjust="spacingAndGlyphs">ALT increase</text>
<text x="499.60" y="603.00" font-size="7.85" text-anchor="middle" fill="#2a2a2a" stroke="#2a2a2a" stroke-width="0.15" stroke-linejoin="round" textLength="18.52" lengthAdjust="spacingAndGlyphs">0.548</text>
<text x="32.40" y="611.00" font-size="7.85" fill="#2a2a2a" stroke="#2a2a2a" stroke-width="0.15" stroke-linejoin="round" textLength="16.67" lengthAdjust="spacingAndGlyphs"><tspan fill="#5a5a5a" stroke="none">&lt;</tspan>200</text>
<text x="145.65" y="612.00" font-size="7.85" text-anchor="middle" fill="#2a2a2a" stroke="#2a2a2a" stroke-width="0.15" stroke-linejoin="round" textLength="8.23" lengthAdjust="spacingAndGlyphs">33</text>
<text x="446.15" y="612.00" font-size="7.85" text-anchor="middle" fill="#2a2a2a" stroke="#2a2a2a" stroke-width="0.15" stroke-linejoin="round" textLength="49.92" lengthAdjust="spacingAndGlyphs">63.6(45.1-79.6)</text>
<line x1="281.47" y1="608.50" x2="350.30" y2="608.50" stroke="#262626" stroke-width="1"/>
<line x1="281.47" y1="605.30" x2="281.47" y2="611.70" stroke="#262626" stroke-width="1.2"/>
<line x1="350.30" y1="605.30" x2="350.30" y2="611.70" stroke="#262626" stroke-width="1.2"/>
<rect x="316.28" y="606.45" width="4.2" height="4.1" fill="#c61430"/>
<text x="32.40" y="620.00" font-size="7.85" fill="#2a2a2a" stroke="#2a2a2a" stroke-width="0.15" stroke-linejoin="round" textLength="16.41" lengthAdjust="spacingAndGlyphs"><tspan fill="#5a5a5a" stroke="none">≥</tspan>200</text>
<text x="145.65" y="620.00" font-size="7.85" text-anchor="middle" fill="#2a2a2a" stroke="#2a2a2a" stroke-width="0.15" stroke-linejoin="round" textLength="8.23" lengthAdjust="spacingAndGlyphs">19</text>
<text x="446.15" y="620.00" font-size="7.85" text-anchor="middle" fill="#2a2a2a" stroke="#2a2a2a" stroke-width="0.15" stroke-linejoin="round" textLength="49.92" lengthAdjust="spacingAndGlyphs">73.7(48.8-90.9)</text>
<line x1="288.86" y1="617.50" x2="372.85" y2="617.50" stroke="#262626" stroke-width="1"/>
<line x1="288.86" y1="614.30" x2="288.86" y2="620.70" stroke="#262626" stroke-width="1.2"/>
<line x1="372.85" y1="614.30" x2="372.85" y2="620.70" stroke="#262626" stroke-width="1.2"/>
<rect x="336.43" y="615.45" width="4.2" height="4.1" fill="#c61430"/>
<text x="32.40" y="629.00" font-size="7.85" font-weight="bold" fill="#111" stroke="#111" stroke-width="0.1" stroke-linejoin="round" textLength="28.79" lengthAdjust="spacingAndGlyphs">Etiology</text>
<text x="499.60" y="629.00" font-size="7.85" text-anchor="middle" fill="#2a2a2a" stroke="#2a2a2a" stroke-width="0.15" stroke-linejoin="round" textLength="18.52" lengthAdjust="spacingAndGlyphs">0.009</text>
<text x="32.40" y="638.00" font-size="7.85" fill="#2a2a2a" stroke="#2a2a2a" stroke-width="0.15" stroke-linejoin="round" textLength="14.81" lengthAdjust="spacingAndGlyphs">EBV</text>
<text x="145.65" y="638.00" font-size="7.85" text-anchor="middle" fill="#2a2a2a" stroke="#2a2a2a" stroke-width="0.15" stroke-linejoin="round" textLength="8.23" lengthAdjust="spacingAndGlyphs">24</text>
<text x="446.15" y="638.00" font-size="7.85" text-anchor="middle" fill="#2a2a2a" stroke="#2a2a2a" stroke-width="0.15" stroke-linejoin="round" textLength="49.92" lengthAdjust="spacingAndGlyphs">87.5(67.6-97.3)</text>
<line x1="326.36" y1="634.50" x2="385.61" y2="634.50" stroke="#262626" stroke-width="1"/>
<line x1="326.36" y1="631.30" x2="326.36" y2="637.70" stroke="#262626" stroke-width="1.2"/>
<line x1="385.61" y1="631.30" x2="385.61" y2="637.70" stroke="#262626" stroke-width="1.2"/>
<rect x="363.96" y="632.45" width="4.2" height="4.1" fill="#c61430"/>
<text x="32.40" y="647.00" font-size="7.85" fill="#2a2a2a" stroke="#2a2a2a" stroke-width="0.15" stroke-linejoin="round" textLength="25.09" lengthAdjust="spacingAndGlyphs">CAEBV</text>
<text x="145.65" y="646.00" font-size="7.85" text-anchor="middle" fill="#2a2a2a" stroke="#2a2a2a" stroke-width="0.15" stroke-linejoin="round" textLength="8.23" lengthAdjust="spacingAndGlyphs">10</text>
<text x="446.15" y="646.00" font-size="7.85" text-anchor="middle" fill="#2a2a2a" stroke="#2a2a2a" stroke-width="0.15" stroke-linejoin="round" textLength="49.92" lengthAdjust="spacingAndGlyphs">30.0(10.2-46.2)</text>
<line x1="211.85" y1="643.50" x2="283.67" y2="643.50" stroke="#262626" stroke-width="1"/>
<line x1="211.85" y1="640.30" x2="211.85" y2="646.70" stroke="#262626" stroke-width="1.2"/>
<line x1="283.67" y1="640.30" x2="283.67" y2="646.70" stroke="#262626" stroke-width="1.2"/>
<rect x="249.25" y="641.45" width="4.2" height="4.1" fill="#c61430"/>
<text x="32.40" y="655.00" font-size="7.85" fill="#2a2a2a" stroke="#2a2a2a" stroke-width="0.15" stroke-linejoin="round" textLength="20.97" lengthAdjust="spacingAndGlyphs">SAIDs</text>
<text x="145.65" y="655.00" font-size="7.85" text-anchor="middle" fill="#2a2a2a" stroke="#2a2a2a" stroke-width="0.15" stroke-linejoin="round" textLength="7.68" lengthAdjust="spacingAndGlyphs">11</text>
<text x="446.15" y="655.00" font-size="7.85" text-anchor="middle" fill="#2a2a2a" stroke="#2a2a2a" stroke-width="0.15" stroke-linejoin="round" textLength="49.92" lengthAdjust="spacingAndGlyphs">63.6(30.8-89.1)</text>
<line x1="252.95" y1="652.50" x2="369.25" y2="652.50" stroke="#262626" stroke-width="1"/>
<line x1="252.95" y1="649.30" x2="252.95" y2="655.70" stroke="#262626" stroke-width="1.2"/>
<line x1="369.25" y1="649.30" x2="369.25" y2="655.70" stroke="#262626" stroke-width="1.2"/>
<rect x="316.28" y="650.45" width="4.2" height="4.1" fill="#c61430"/>
<text x="32.40" y="664.00" font-size="7.85" fill="#2a2a2a" stroke="#2a2a2a" stroke-width="0.15" stroke-linejoin="round" textLength="30.85" lengthAdjust="spacingAndGlyphs">Unknown</text>
<text x="145.65" y="664.00" font-size="7.85" text-anchor="middle" fill="#2a2a2a" stroke="#2a2a2a" stroke-width="0.15" stroke-linejoin="round" textLength="4.12" lengthAdjust="spacingAndGlyphs">7</text>
<text x="446.15" y="664.00" font-size="7.85" text-anchor="middle" fill="#2a2a2a" stroke="#2a2a2a" stroke-width="0.15" stroke-linejoin="round" textLength="49.92" lengthAdjust="spacingAndGlyphs">71.4(29.0-96.3)</text>
<line x1="249.36" y1="661.50" x2="383.62" y2="661.50" stroke="#262626" stroke-width="1"/>
<line x1="249.36" y1="658.30" x2="249.36" y2="664.70" stroke="#262626" stroke-width="1.2"/>
<line x1="383.62" y1="658.30" x2="383.62" y2="664.70" stroke="#262626" stroke-width="1.2"/>
<rect x="331.84" y="659.45" width="4.2" height="4.1" fill="#c61430"/>
<line x1="188.7" y1="664.85" x2="393.8" y2="664.85" stroke="#222" stroke-width="1.4"/>
<line x1="191.50" y1="664.8" x2="191.50" y2="667.9" stroke="#222" stroke-width="1"/>
<text x="191.50" y="677.00" font-size="7.85" text-anchor="middle" fill="#2a2a2a" stroke="#2a2a2a" stroke-width="0.15" stroke-linejoin="round" textLength="4.12" lengthAdjust="spacingAndGlyphs">0</text>
<line x1="231.40" y1="664.8" x2="231.40" y2="667.9" stroke="#222" stroke-width="1"/>
<text x="231.40" y="677.00" font-size="7.85" text-anchor="middle" fill="#2a2a2a" stroke="#2a2a2a" stroke-width="0.15" stroke-linejoin="round" textLength="8.23" lengthAdjust="spacingAndGlyphs">20</text>
<line x1="271.30" y1="664.8" x2="271.30" y2="667.9" stroke="#222" stroke-width="1"/>
<text x="271.30" y="677.00" font-size="7.85" text-anchor="middle" fill="#2a2a2a" stroke="#2a2a2a" stroke-width="0.15" stroke-linejoin="round" textLength="8.23" lengthAdjust="spacingAndGlyphs">40</text>
<line x1="311.20" y1="664.8" x2="311.20" y2="667.9" stroke="#222" stroke-width="1"/>
<text x="311.20" y="677.00" font-size="7.85" text-anchor="middle" fill="#2a2a2a" stroke="#2a2a2a" stroke-width="0.15" stroke-linejoin="round" textLength="8.23" lengthAdjust="spacingAndGlyphs">60</text>
<line x1="351.10" y1="664.8" x2="351.10" y2="667.9" stroke="#222" stroke-width="1"/>
<text x="351.10" y="677.00" font-size="7.85" text-anchor="middle" fill="#2a2a2a" stroke="#2a2a2a" stroke-width="0.15" stroke-linejoin="round" textLength="8.23" lengthAdjust="spacingAndGlyphs">80</text>
<line x1="391.00" y1="664.8" x2="391.00" y2="667.9" stroke="#222" stroke-width="1"/>
<text x="391.00" y="677.00" font-size="7.85" text-anchor="middle" fill="#2a2a2a" stroke="#2a2a2a" stroke-width="0.15" stroke-linejoin="round" textLength="12.35" lengthAdjust="spacingAndGlyphs">100</text>
<rect x="0.6" y="0.6" width="518.8" height="682.8" fill="none" stroke="#000" stroke-width="1.2"/>
</svg>
</body></html>
